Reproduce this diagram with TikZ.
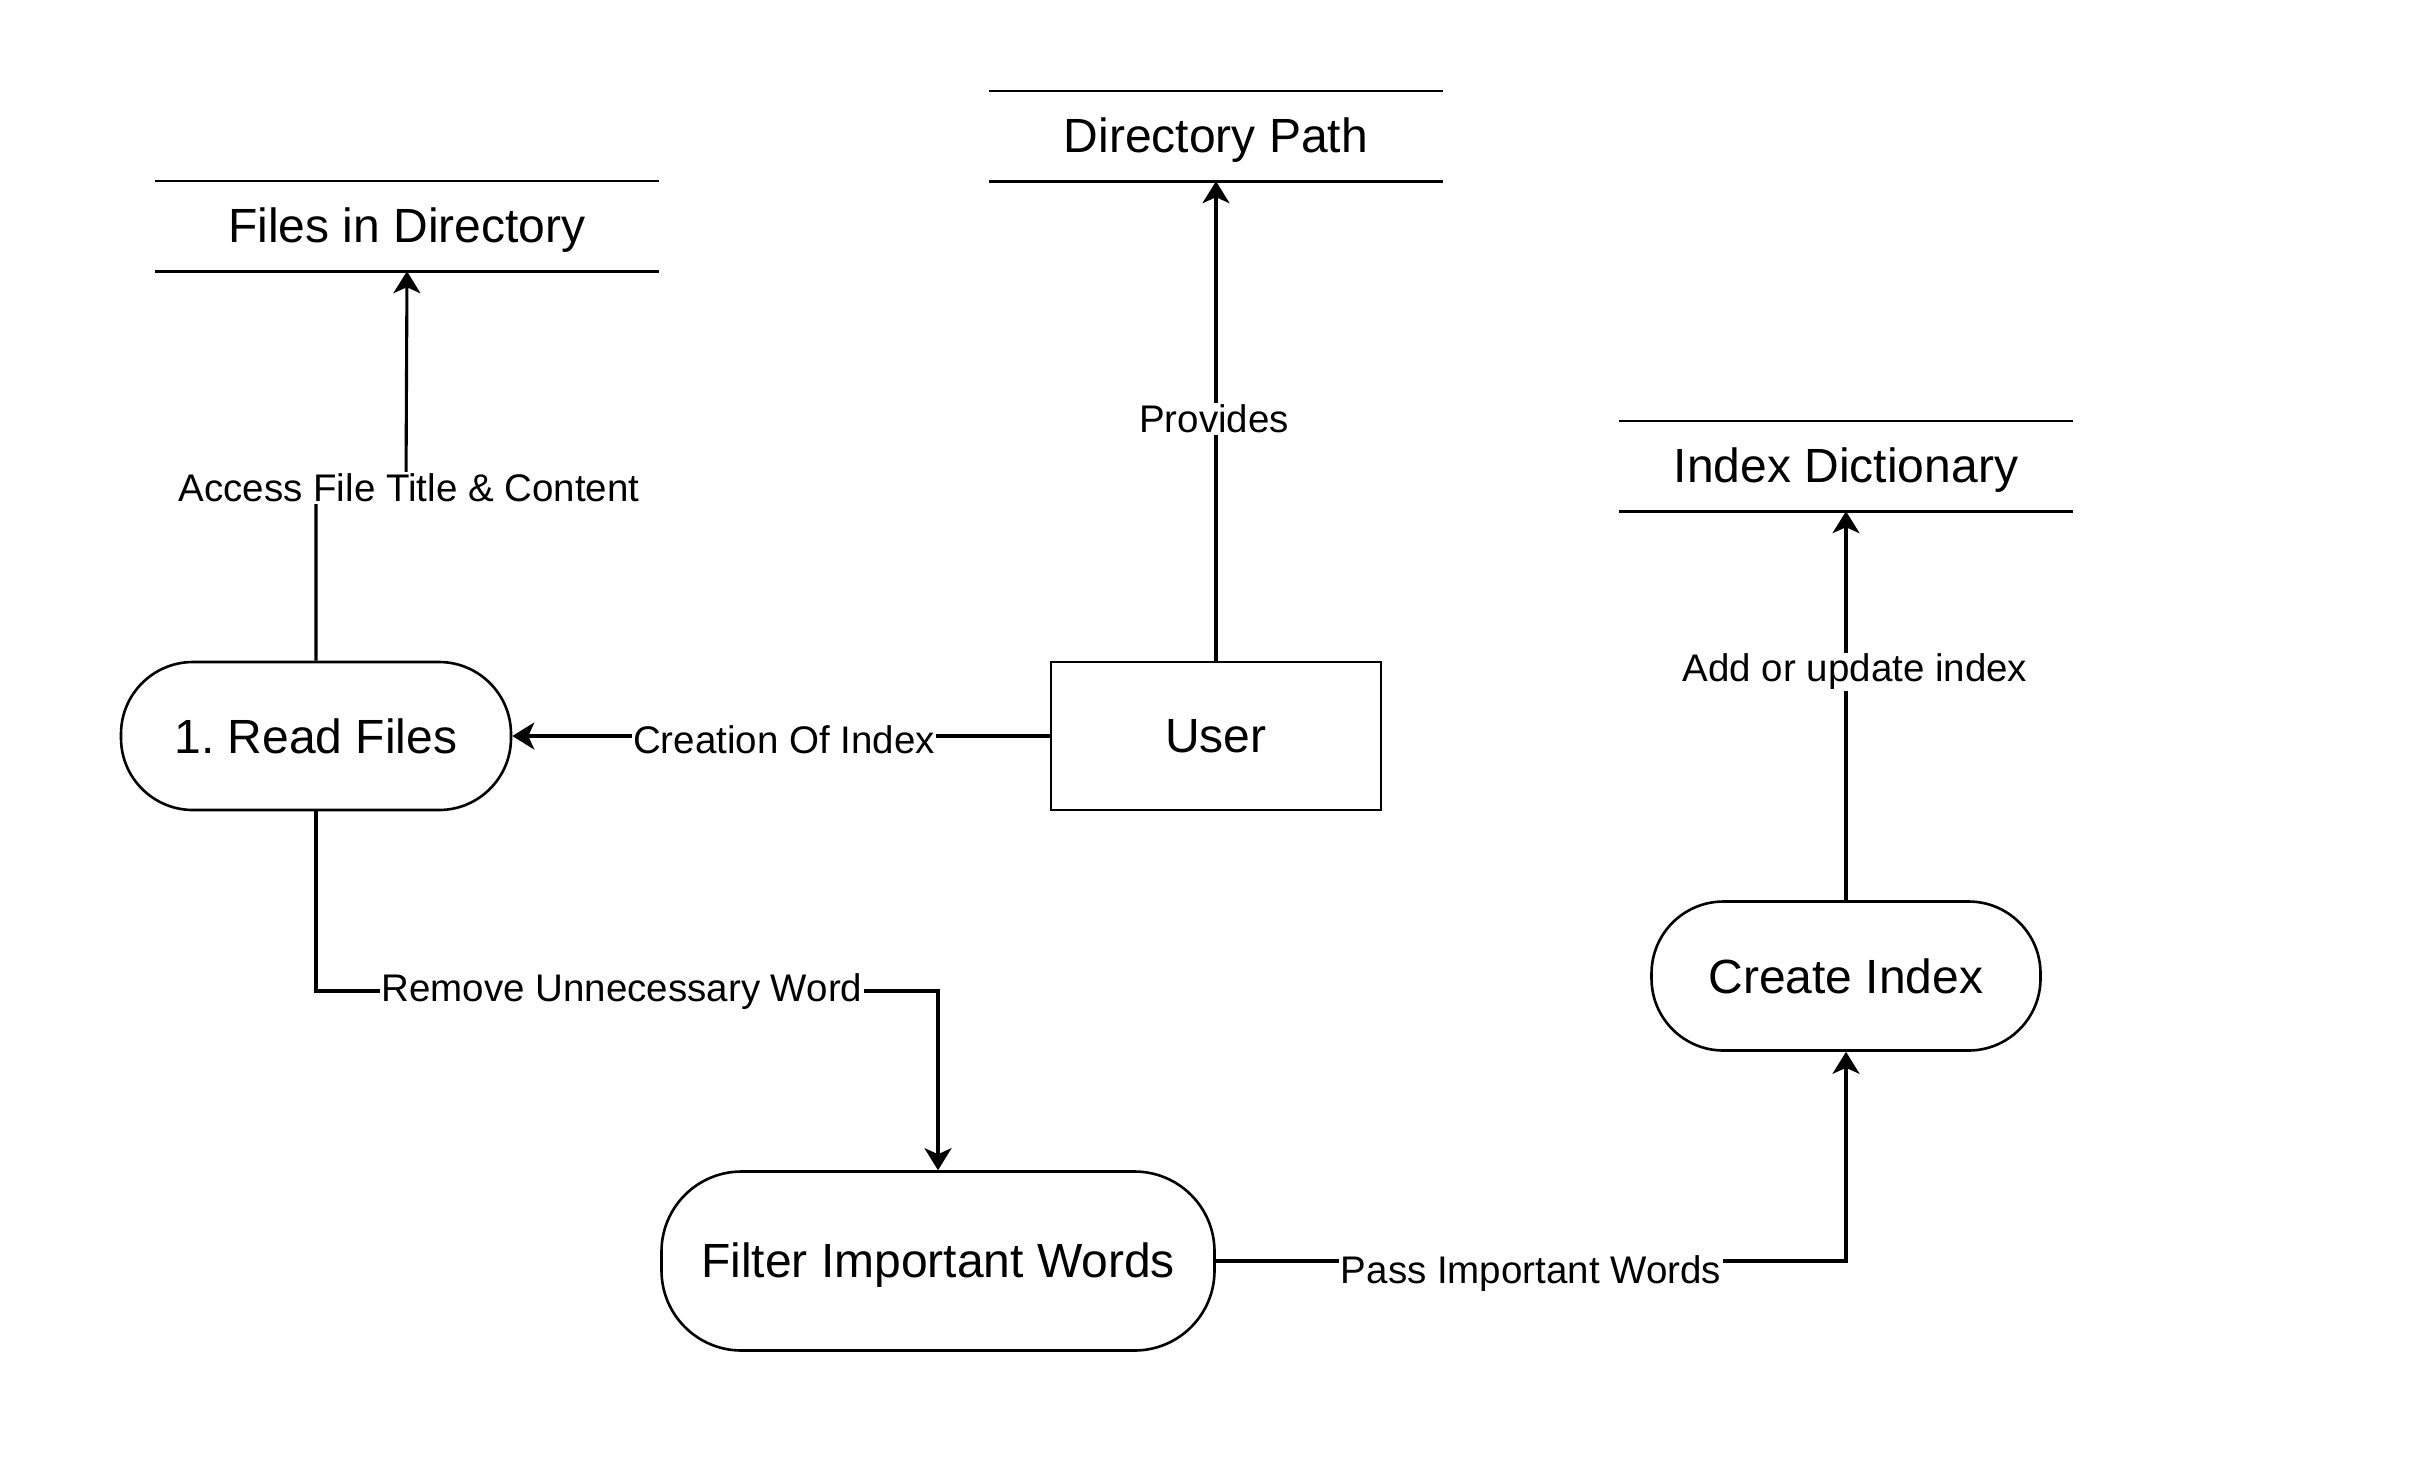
\documentclass[tikz,border=0pt]{standalone}
\usepackage{fontspec}
\setmainfont{Liberation Sans}
\usetikzlibrary{arrows.meta}
\frenchspacing
\begin{document}
\begin{tikzpicture}[x=1pt,y=-1pt,
  bigtext/.style={font=\fontsize{48}{56}\selectfont},
  proc/.style={draw,line width=2.6pt,inner sep=0pt,bigtext},
  store/.style={inner sep=0pt,minimum height=90pt,bigtext},
  storeline/.style={line width=2.6pt},
  ent/.style={draw,line width=2.6pt,inner sep=0pt,minimum width=330pt,minimum height=148pt,bigtext},
  lbl/.style={fill=white,inner sep=1.5pt,font=\fontsize{38.5}{44}\selectfont},
  flow/.style={line width=3.1pt,-{Stealth[length=22pt,width=27pt,inset=6pt]}},
]
\useasboundingbox (0,0) rectangle (2430,1470);

% data stores
\node[store,minimum width=504pt] (fd) at (407,226) {};
\node[bigtext,inner sep=0pt] (fdt) at (407,230) {Files in Directory};
\node[store,minimum width=453pt] (dp) at (1216,136) {};
\node[bigtext,inner sep=0pt] (dpt) at (1216,140) {Directory Path};
\node[store,minimum width=453pt] (id) at (1846,466) {};
\node[bigtext,inner sep=0pt] (idt) at (1846,470) {Index Dictionary};
\foreach \s in {fd,dp,id}{
  \draw[storeline] (\s.north west) -- (\s.north east);
  \draw[storeline] (\s.south west) -- (\s.south east);
}

% processes
\node[proc,rounded corners=72pt,minimum width=390pt,minimum height=148pt] (rf) at (316,736) {1. Read Files};
\node[ent] (us) at (1216,736) {User};
\node[proc,rounded corners=72pt,minimum width=389pt,minimum height=149pt] (ci) at (1846,976) {Create Index};
\node[proc,rounded corners=80pt,minimum width=553pt,minimum height=179pt] (fw) at (938,1261) {};
\node[bigtext,inner sep=0pt] (fwt) at (938,1265) {Filter Important Words};

% connectors
\draw[flow] (rf.north) -- (316,487) -- (406,487) -- (fd.south);
\node[lbl] (l1) at (409,488) {Access File Title \& Content};

\draw[flow] (us.west) -- (rf.east);
\node[lbl] (l2) at (784,740) {Creation Of Index};

\draw[flow] (us.north) -- (dp.south);
\node[lbl] (l3) at (1214,419) {Provides};

\draw[flow] (rf.south) -- (316,991) -- (938,991) -- (fw.north);
\node[lbl] (l4) at (622,992) {Remove Unnecessary Word};

\draw[flow] (fw.east) -- (1846,1261) -- (ci.south);
\node[lbl] (l5) at (1531,1274) {Pass Important Words};

\draw[flow] (ci.north) -- (id.south);
\node[lbl] (l6) at (1855,672) {Add or update index};
\end{tikzpicture}
\end{document}
